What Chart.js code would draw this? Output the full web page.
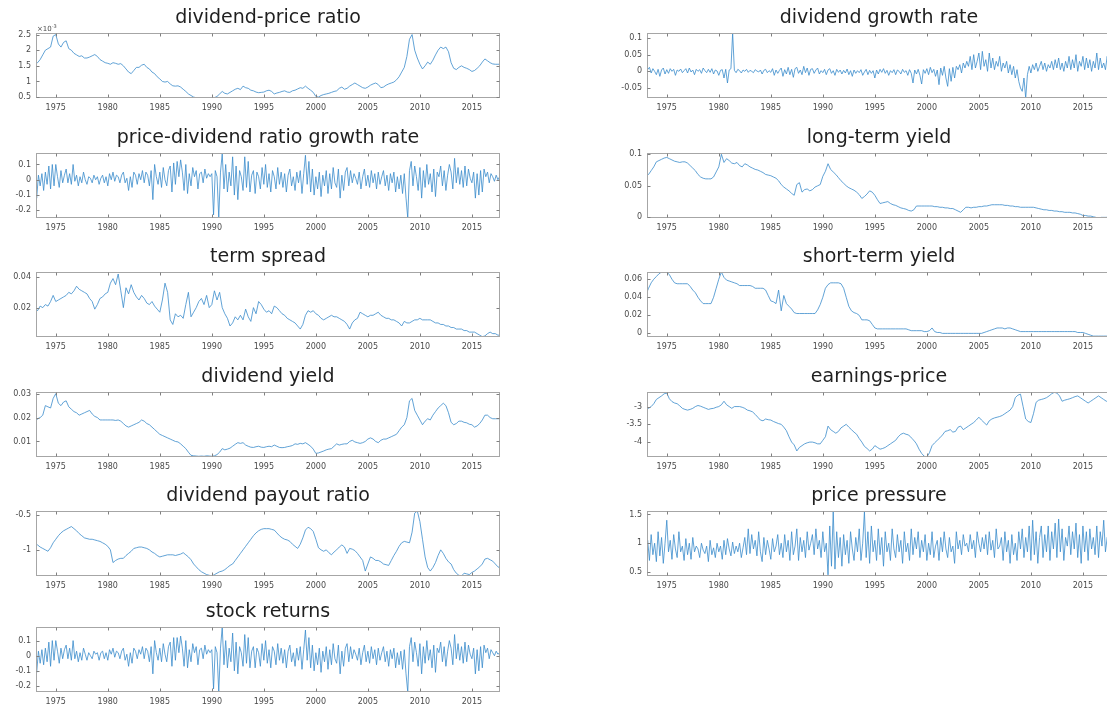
<!DOCTYPE html>
<html>
<head>
<meta charset="utf-8">
<script src="https://cdn.jsdelivr.net/npm/chart.js@4.4.1/dist/chart.umd.min.js"></script>
<style>
html, body { margin: 0; padding: 0; background: #fff; width: 1107px; height: 707px; overflow: hidden; }
.panel { position: absolute; }
</style>
</head>
<body>
<script>
// time axis
const yearTicks = [1975, 1980, 1985, 1990, 1995, 2000, 2005, 2010, 2015];
const xMin = 1973.1, xMax = 2017.7;
const dataStart = 1973;
const quarterStep = 0.25;   // 4 values per year
const bimonthStep = 1 / 6;  // 6 values per year

// dividend-price ratio, shown in units of 1e-3
const dividendPriceRatio = [
  1.55, 1.60, 1.70, 1.85,
  2.00, 2.05, 2.10, 2.45,
  2.50, 2.20, 2.10, 2.25,
  2.30, 2.05, 2.00, 1.90,
  1.85, 1.80, 1.82, 1.75,
  1.75, 1.78, 1.82, 1.86,
  1.80, 1.70, 1.65, 1.60,
  1.58, 1.55, 1.60, 1.58,
  1.55, 1.57, 1.50, 1.40,
  1.30, 1.25, 1.35, 1.45,
  1.45, 1.52, 1.55, 1.45,
  1.40, 1.30, 1.25, 1.15,
  1.08, 1.00, 0.98, 1.00,
  0.92, 0.86, 0.85, 0.86,
  0.82, 0.75, 0.68, 0.60,
  0.55, 0.50, 0.48, 0.47,
  0.47, 0.48, 0.47, 0.48,
  0.47, 0.48, 0.52, 0.60,
  0.68, 0.62, 0.60, 0.65,
  0.70, 0.75, 0.78, 0.74,
  0.85, 0.80, 0.78, 0.72,
  0.70, 0.66, 0.64, 0.65,
  0.66, 0.70, 0.72, 0.68,
  0.60, 0.63, 0.65, 0.68,
  0.70, 0.66, 0.65, 0.70,
  0.72, 0.76, 0.80, 0.78,
  0.85, 0.78, 0.72, 0.65,
  0.52, 0.50, 0.55, 0.58,
  0.60, 0.62, 0.65, 0.68,
  0.70, 0.78, 0.82, 0.75,
  0.78, 0.85, 0.90, 0.95,
  0.90, 0.85, 0.80, 0.78,
  0.82, 0.88, 0.92, 0.95,
  0.90, 0.80, 0.82, 0.88,
  0.92, 0.95, 0.98, 1.05,
  1.15, 1.30, 1.45, 1.80,
  2.35, 2.50, 2.00, 1.75,
  1.55, 1.40, 1.50, 1.62,
  1.55, 1.68, 1.85, 2.00,
  2.10, 2.05, 2.10, 1.95,
  1.60, 1.42, 1.38, 1.45,
  1.50, 1.45, 1.42, 1.38,
  1.32, 1.35, 1.42, 1.50,
  1.62, 1.72, 1.66, 1.60,
  1.56, 1.55, 1.55, 1.55
];

const priceDividendGrowth = [
  -0.06, -0.12, 0.03, -0.04, 0.04, -0.07,
  0.05, -0.03, 0.09, -0.06, 0.10, -0.04,
  0.10, 0.02, -0.05, 0.06, -0.02, 0.03,
  0.07, -0.02, 0.04, -0.03, 0.10, -0.01,
  0.03, -0.04, 0.02, -0.02, 0.05, 0.00,
  -0.03, 0.02, 0.01, -0.02, 0.03, 0.00,
  0.02, -0.03, 0.01, 0.03, -0.02, 0.02,
  -0.04, 0.04, 0.00, 0.05, -0.01, 0.03,
  0.02, -0.02, 0.03, 0.05, -0.02, 0.01,
  -0.07, 0.02, -0.05, 0.05, 0.03, -0.03,
  0.04, 0.00, 0.06, -0.02, 0.05, 0.03,
  -0.04, 0.06, -0.13, 0.10, 0.02, -0.03,
  0.05, -0.05, 0.08, 0.00, -0.04, 0.06,
  0.09, -0.08, 0.11, -0.03, 0.12, 0.02,
  0.13, 0.05, -0.07, 0.10, -0.09, 0.04,
  -0.04, 0.08, 0.02, 0.06, -0.06, 0.04,
  0.05, -0.02, 0.07, 0.01, 0.04, 0.02,
  0.04, -0.23, 0.06, 0.02, -0.25, 0.05,
  0.17, -0.06, 0.10, -0.08, 0.05, -0.04,
  0.15, -0.10, 0.09, -0.13, 0.06, 0.02,
  -0.07, 0.15, -0.05, 0.12, -0.08, 0.03,
  0.06, -0.09, 0.05, 0.02, -0.06, 0.08,
  -0.03, 0.10, -0.05, 0.04, -0.08, 0.06,
  0.02, -0.06, 0.08, -0.03, 0.05, -0.05,
  0.04, -0.08, 0.03, 0.07, -0.04, 0.02,
  -0.07, 0.05, -0.02, 0.06, -0.09, 0.04,
  0.16, -0.03, 0.12, -0.08, 0.07, -0.10,
  0.02, -0.06, 0.05, -0.11, 0.03, -0.04,
  0.06, -0.09, 0.04, -0.06, 0.08, -0.02,
  -0.05, 0.07, -0.12, 0.03, -0.07, 0.05,
  0.08, -0.04, 0.06, -0.02, 0.04, 0.01,
  -0.03, 0.05, -0.06, 0.02, 0.07, -0.04,
  0.03, -0.05, 0.06, -0.02, 0.04, -0.06,
  0.05, -0.03, 0.02, 0.06, -0.04, 0.03,
  -0.07, 0.04, -0.02, 0.05, -0.08, 0.02,
  -0.06, 0.03, -0.09, 0.04, -0.12, -0.25,
  0.06, 0.12, -0.04, 0.09, 0.02, -0.07,
  0.08, -0.12, 0.06, -0.05, 0.10, -0.03,
  0.04, -0.08, 0.07, -0.11, 0.05, 0.02,
  0.09, -0.04, 0.06, -0.07, 0.03, 0.10,
  0.05, -0.06, 0.14, -0.02, 0.08, -0.03,
  0.06, -0.05, 0.09, -0.04, 0.07, 0.01,
  -0.02, 0.05, -0.12, 0.04, -0.10, 0.06,
  -0.08, 0.07, 0.02, 0.05, -0.02, 0.04,
  0.02, -0.01, 0.03, 0.00, 0.02, 0.01
];

const termSpread = [
  0.020, 0.018, 0.021, 0.020,
  0.022, 0.021, 0.024, 0.028,
  0.024, 0.025, 0.026, 0.027,
  0.028, 0.030, 0.029, 0.031,
  0.034, 0.032, 0.031, 0.030,
  0.029, 0.026, 0.024, 0.019,
  0.022, 0.026, 0.027, 0.029,
  0.030, 0.036, 0.039, 0.035,
  0.042, 0.031, 0.020, 0.033,
  0.029, 0.035, 0.030, 0.027,
  0.025, 0.028, 0.026, 0.023,
  0.022, 0.024, 0.021, 0.019,
  0.017, 0.025, 0.036, 0.030,
  0.012, 0.009, 0.016, 0.014,
  0.015, 0.013, 0.022, 0.030,
  0.014, 0.017, 0.020, 0.024,
  0.026, 0.022, 0.028, 0.020,
  0.022, 0.031, 0.025, 0.030,
  0.020, 0.016, 0.013, 0.008,
  0.010, 0.014, 0.012, 0.015,
  0.012, 0.019, 0.014, 0.011,
  0.020, 0.016, 0.024, 0.022,
  0.019, 0.017, 0.018, 0.016,
  0.021, 0.020, 0.018, 0.016,
  0.015, 0.013, 0.012, 0.011,
  0.010, 0.008, 0.006, 0.009,
  0.015, 0.018, 0.017, 0.018,
  0.016, 0.015, 0.013, 0.012,
  0.013, 0.014, 0.015, 0.014,
  0.014, 0.013, 0.012, 0.011,
  0.009, 0.006, 0.010, 0.012,
  0.013, 0.017, 0.016, 0.015,
  0.014, 0.015, 0.015, 0.016,
  0.017, 0.015, 0.014, 0.013,
  0.013, 0.012, 0.012, 0.011,
  0.010, 0.008, 0.011, 0.010,
  0.010, 0.011, 0.012, 0.012,
  0.013, 0.012, 0.012, 0.012,
  0.012, 0.011, 0.010, 0.010,
  0.009, 0.009, 0.008, 0.008,
  0.007, 0.007, 0.006, 0.006,
  0.006, 0.005, 0.005, 0.004,
  0.004, 0.004, 0.003, 0.002,
  0.001, 0.0015, 0.003, 0.004,
  0.003, 0.003, 0.002, 0.002
];

const dividendYield = [
  0.0180, 0.0195, 0.0200, 0.0210,
  0.0250, 0.0245, 0.0240, 0.0280,
  0.0300, 0.0260, 0.0250, 0.0265,
  0.0270, 0.0245, 0.0235, 0.0225,
  0.0220, 0.0210, 0.0215, 0.0220,
  0.0225, 0.0230, 0.0215, 0.0205,
  0.0200, 0.0190, 0.0190, 0.0190,
  0.0190, 0.0190, 0.0190, 0.0188,
  0.0190, 0.0185, 0.0175, 0.0165,
  0.0160, 0.0165, 0.0170, 0.0175,
  0.0180, 0.0190, 0.0185, 0.0175,
  0.0170, 0.0160, 0.0150, 0.0140,
  0.0130, 0.0125, 0.0120, 0.0115,
  0.0110, 0.0105, 0.0100, 0.0098,
  0.0090, 0.0080, 0.0070, 0.0055,
  0.0042, 0.0040, 0.0039, 0.0038,
  0.0039, 0.0038, 0.0040, 0.0039,
  0.0038, 0.0040, 0.0045, 0.0055,
  0.0070, 0.0065, 0.0068, 0.0072,
  0.0080, 0.0088, 0.0095, 0.0092,
  0.0095, 0.0085, 0.0080, 0.0076,
  0.0075, 0.0078, 0.0080, 0.0076,
  0.0075, 0.0078, 0.0080, 0.0078,
  0.0085, 0.0080, 0.0075, 0.0074,
  0.0075, 0.0078, 0.0080, 0.0083,
  0.0090, 0.0088, 0.0092, 0.0090,
  0.0095, 0.0088, 0.0080, 0.0068,
  0.0050, 0.0052, 0.0056, 0.0060,
  0.0065, 0.0068, 0.0070, 0.0080,
  0.0090, 0.0085, 0.0088, 0.0090,
  0.0090, 0.0100, 0.0105, 0.0098,
  0.0095, 0.0092, 0.0095, 0.0100,
  0.0110, 0.0115, 0.0110, 0.0100,
  0.0095, 0.0105, 0.0110, 0.0110,
  0.0115, 0.0120, 0.0125, 0.0130,
  0.0145, 0.0160, 0.0170, 0.0200,
  0.0270, 0.0280, 0.0230, 0.0210,
  0.0190, 0.0170, 0.0185, 0.0195,
  0.0190, 0.0210, 0.0225, 0.0240,
  0.0250, 0.0260, 0.0250, 0.0220,
  0.0180, 0.0170, 0.0175, 0.0185,
  0.0185, 0.0180, 0.0178, 0.0172,
  0.0170, 0.0160, 0.0165, 0.0175,
  0.0190, 0.0210, 0.0210, 0.0200,
  0.0195, 0.0195, 0.0195, 0.0195
];

const dividendPayout = [
  -0.92, -0.93, -0.96, -0.98,
  -1.00, -1.02, -0.97, -0.90,
  -0.85, -0.80, -0.76, -0.73,
  -0.71, -0.69, -0.67, -0.70,
  -0.73, -0.77, -0.80, -0.83,
  -0.84, -0.85, -0.85, -0.86,
  -0.87, -0.88, -0.90, -0.92,
  -0.95, -1.00, -1.18, -1.15,
  -1.13, -1.12, -1.12, -1.08,
  -1.05, -1.02, -0.98, -0.97,
  -0.96, -0.96, -0.97, -0.98,
  -1.00, -1.03, -1.05, -1.08,
  -1.10, -1.09, -1.08, -1.07,
  -1.07, -1.07, -1.08, -1.07,
  -1.06, -1.04, -1.07, -1.10,
  -1.14, -1.20, -1.24, -1.28,
  -1.31, -1.33, -1.35, -1.36,
  -1.37, -1.35, -1.33, -1.31,
  -1.30, -1.28, -1.25, -1.22,
  -1.20, -1.15, -1.10, -1.05,
  -1.00, -0.95, -0.90, -0.85,
  -0.80, -0.76, -0.73, -0.71,
  -0.70, -0.70, -0.70, -0.71,
  -0.72, -0.76, -0.80, -0.83,
  -0.85, -0.86, -0.88, -0.92,
  -0.95, -0.98, -0.92, -0.83,
  -0.72, -0.68, -0.70, -0.74,
  -0.85, -0.97, -1.00, -1.02,
  -1.00, -1.04, -1.07, -1.03,
  -1.00, -0.96, -0.93, -0.96,
  -1.05, -0.98, -0.99, -1.01,
  -1.05, -1.10, -1.15, -1.30,
  -1.20, -1.10, -1.12, -1.15,
  -1.15, -1.17, -1.20, -1.21,
  -1.22, -1.15, -1.08, -1.02,
  -0.95, -0.90, -0.88, -0.89,
  -0.90, -0.75, -0.48, -0.45,
  -0.60, -0.85, -1.10, -1.25,
  -1.30, -1.25, -1.18, -1.08,
  -1.00, -1.05, -1.12, -1.17,
  -1.20, -1.28, -1.33, -1.36,
  -1.37, -1.33, -1.34, -1.35,
  -1.32, -1.30, -1.27, -1.24,
  -1.20, -1.13, -1.12, -1.14,
  -1.16, -1.20, -1.24, -1.26
];

const stockReturns = [
  -0.05, -0.11, 0.03, -0.05, 0.04, -0.06,
  0.05, -0.04, 0.09, -0.07, 0.10, -0.03,
  0.10, 0.03, -0.05, 0.05, -0.02, 0.04,
  0.07, -0.02, 0.05, -0.03, 0.10, -0.02,
  0.03, -0.04, 0.02, -0.03, 0.05, 0.01,
  -0.03, 0.02, 0.00, -0.02, 0.03, 0.01,
  0.02, -0.03, 0.02, 0.03, -0.02, 0.02,
  -0.03, 0.04, 0.01, 0.05, -0.01, 0.03,
  0.02, -0.02, 0.03, 0.05, -0.03, 0.01,
  -0.07, 0.02, -0.05, 0.05, 0.03, -0.02,
  0.04, 0.01, 0.06, -0.02, 0.05, 0.03,
  -0.04, 0.06, -0.12, 0.10, 0.02, -0.03,
  0.05, -0.04, 0.08, 0.01, -0.04, 0.06,
  0.09, -0.07, 0.12, -0.03, 0.12, 0.02,
  0.13, 0.05, -0.07, 0.10, -0.08, 0.04,
  -0.04, 0.08, 0.02, 0.06, -0.06, 0.04,
  0.05, -0.02, 0.07, 0.01, 0.04, 0.02,
  0.04, -0.22, 0.06, 0.02, -0.24, 0.05,
  0.19, -0.06, 0.10, -0.08, 0.05, -0.04,
  0.15, -0.10, 0.09, -0.12, 0.06, 0.02,
  -0.07, 0.14, -0.05, 0.12, -0.08, 0.03,
  0.06, -0.08, 0.05, 0.02, -0.07, 0.08,
  -0.03, 0.10, -0.05, 0.04, -0.08, 0.06,
  0.03, -0.06, 0.08, -0.03, 0.05, -0.05,
  0.04, -0.08, 0.03, 0.07, -0.04, 0.02,
  -0.07, 0.05, -0.03, 0.06, -0.09, 0.04,
  0.17, -0.03, 0.12, -0.08, 0.07, -0.10,
  0.02, -0.06, 0.05, -0.11, 0.03, -0.04,
  0.06, -0.09, 0.04, -0.06, 0.08, -0.02,
  -0.05, 0.07, -0.12, 0.03, -0.07, 0.05,
  0.08, -0.04, 0.06, -0.02, 0.04, 0.01,
  -0.03, 0.05, -0.06, 0.02, 0.07, -0.04,
  0.03, -0.05, 0.06, -0.02, 0.04, -0.06,
  0.05, -0.03, 0.02, 0.06, -0.04, 0.03,
  -0.07, 0.04, -0.02, 0.05, -0.08, 0.02,
  -0.06, 0.03, -0.09, 0.04, -0.12, -0.24,
  0.06, 0.12, -0.04, 0.09, 0.02, -0.07,
  0.08, -0.12, 0.06, -0.05, 0.10, -0.03,
  0.04, -0.08, 0.07, -0.11, 0.05, 0.02,
  0.09, -0.04, 0.06, -0.07, 0.03, 0.10,
  0.05, -0.06, 0.14, -0.02, 0.08, -0.03,
  0.06, -0.05, 0.09, -0.04, 0.07, 0.01,
  -0.02, 0.05, -0.12, 0.04, -0.10, 0.06,
  -0.08, 0.07, 0.02, 0.05, -0.02, 0.04,
  0.02, 0.00, 0.03, 0.01, 0.02, 0.01
];

const dividendGrowth = [
  0.010, 0.005, 0.012, -0.005, 0.008, 0.000,
  -0.010, 0.006, -0.015, 0.004, 0.010, -0.008,
  0.005, -0.006, 0.008, 0.000, 0.006, -0.012,
  0.004, 0.000, 0.007, -0.004, 0.002, 0.008,
  -0.005, 0.010, -0.002, 0.004, -0.010, 0.006,
  0.000, 0.005, -0.006, 0.010, 0.002, -0.004,
  0.006, -0.003, 0.008, -0.008, 0.004, 0.001,
  -0.012, 0.003, 0.005, -0.020, 0.006, -0.035,
  0.004, 0.008, 0.115, 0.003, -0.004, 0.006,
  0.002, -0.005, 0.004, 0.000, 0.006, -0.003,
  0.003, 0.000, -0.004, 0.005, 0.001, -0.002,
  0.004, -0.008, 0.003, 0.006, -0.004, 0.002,
  -0.003, 0.008, -0.012, 0.004, -0.006, 0.003,
  0.010, -0.015, 0.005, -0.008, 0.012, -0.010,
  0.006, -0.018, 0.008, 0.012, -0.006, 0.004,
  -0.010, 0.015, -0.004, 0.010, -0.012, 0.006,
  0.008, -0.006, 0.004, 0.010, -0.008, 0.002,
  -0.004, 0.006, -0.010, 0.004, 0.008, -0.006,
  0.002, -0.012, 0.006, -0.003, 0.004, -0.008,
  0.003, -0.005, 0.007, -0.010, 0.002, -0.015,
  0.004, -0.006, 0.002, -0.004, 0.005, -0.012,
  -0.002, 0.006, -0.010, 0.003, -0.006, 0.002,
  -0.020, 0.004, -0.008, 0.006, -0.003, 0.008,
  -0.006, 0.003, -0.012, 0.002, -0.004, 0.005,
  -0.010, 0.004, 0.000, -0.008, 0.006, -0.003,
  0.002, -0.012, 0.005, -0.006, -0.035, 0.004,
  -0.008, 0.006, -0.012, -0.038, 0.005, -0.006,
  0.008, -0.010, 0.012, -0.004, 0.006, -0.015,
  0.004, -0.040, 0.010, -0.012, 0.015, -0.020,
  -0.045, 0.008, -0.030, 0.012, -0.020, 0.015,
  0.005, 0.020, -0.005, 0.025, 0.010, 0.030,
  0.015, 0.045, 0.005, 0.050, 0.010, 0.030,
  0.055, 0.005, 0.060, 0.015, 0.035, 0.000,
  0.055, 0.010, 0.040, 0.005, 0.030, 0.015,
  0.045, 0.000, 0.025, 0.010, 0.030, -0.005,
  0.020, -0.010, 0.015, -0.020, 0.005, -0.030,
  -0.050, -0.060, -0.020, -0.080, -0.010, 0.015,
  -0.005, 0.020, 0.005, 0.025, 0.000, 0.015,
  0.030, 0.005, 0.025, 0.000, 0.020, 0.010,
  0.030, 0.005, 0.035, 0.010, 0.040, 0.005,
  0.025, 0.000, 0.030, 0.010, 0.045, 0.005,
  0.035, 0.010, 0.050, 0.000, 0.030, 0.015,
  0.045, 0.005, 0.040, 0.010, 0.035, 0.000,
  0.030, 0.010, 0.055, 0.005, 0.040, 0.010,
  0.025, 0.005, 0.045, 0.010, 0.030, 0.020
];

const longTermYield = [
  0.064, 0.068, 0.074, 0.080,
  0.088, 0.090, 0.092, 0.094,
  0.095, 0.093, 0.091, 0.089,
  0.088, 0.087, 0.088, 0.088,
  0.086, 0.082, 0.078, 0.074,
  0.068, 0.064, 0.062, 0.061,
  0.061, 0.061, 0.064, 0.072,
  0.080, 0.100, 0.087, 0.093,
  0.090, 0.086, 0.085, 0.087,
  0.082, 0.080, 0.085, 0.083,
  0.080, 0.078, 0.076, 0.075,
  0.073, 0.071, 0.068, 0.067,
  0.066, 0.064, 0.062, 0.058,
  0.052, 0.048, 0.045, 0.042,
  0.038, 0.035, 0.052, 0.055,
  0.040, 0.044, 0.045, 0.042,
  0.044, 0.048, 0.050, 0.052,
  0.065, 0.073, 0.085, 0.076,
  0.072, 0.068, 0.063, 0.058,
  0.054, 0.050, 0.047, 0.045,
  0.043, 0.040, 0.036, 0.030,
  0.033, 0.037, 0.042, 0.040,
  0.035, 0.028, 0.022, 0.023,
  0.024, 0.025, 0.022, 0.020,
  0.019, 0.017, 0.015, 0.014,
  0.013, 0.011, 0.010, 0.012,
  0.018, 0.018, 0.018, 0.018,
  0.018, 0.018, 0.018, 0.017,
  0.017, 0.016, 0.016, 0.015,
  0.015, 0.014, 0.014, 0.012,
  0.010, 0.008, 0.012, 0.016,
  0.016, 0.015, 0.016, 0.016,
  0.017, 0.017, 0.018, 0.018,
  0.019, 0.020, 0.020, 0.020,
  0.020, 0.020, 0.019, 0.019,
  0.018, 0.018, 0.017, 0.017,
  0.016, 0.016, 0.016, 0.016,
  0.016, 0.016, 0.015, 0.014,
  0.013, 0.012, 0.012, 0.011,
  0.011, 0.010, 0.010, 0.009,
  0.009, 0.008, 0.008, 0.008,
  0.007, 0.007, 0.006, 0.005,
  0.003, 0.003, 0.002, 0.002,
  0.001, 0.000, -0.001, 0.000,
  0.000, 0.000, 0.001, 0.001
];

const shortTermYield = [
  0.043, 0.050, 0.056, 0.060,
  0.063, 0.066, 0.068, 0.068,
  0.068, 0.065, 0.060, 0.056,
  0.055, 0.055, 0.055, 0.055,
  0.055, 0.052, 0.048, 0.045,
  0.040, 0.036, 0.033, 0.033,
  0.033, 0.033, 0.040, 0.050,
  0.060, 0.068, 0.062, 0.059,
  0.058, 0.057, 0.056, 0.055,
  0.053, 0.053, 0.053, 0.053,
  0.053, 0.052, 0.050, 0.050,
  0.050, 0.050, 0.048, 0.042,
  0.036, 0.035, 0.033, 0.048,
  0.025, 0.042, 0.033, 0.030,
  0.027, 0.023, 0.022, 0.022,
  0.022, 0.022, 0.022, 0.022,
  0.022, 0.022, 0.026, 0.032,
  0.040, 0.050, 0.054, 0.056,
  0.056, 0.056, 0.056, 0.055,
  0.050, 0.040, 0.030, 0.025,
  0.023, 0.022, 0.020, 0.015,
  0.015, 0.015, 0.014, 0.010,
  0.006, 0.005, 0.005, 0.005,
  0.005, 0.005, 0.005, 0.005,
  0.005, 0.005, 0.005, 0.005,
  0.005, 0.004, 0.003, 0.003,
  0.003, 0.003, 0.003, 0.002,
  0.002, 0.003, 0.006, 0.002,
  0.001, 0.001, 0.000, 0.000,
  0.000, 0.000, 0.000, 0.000,
  0.000, 0.000, 0.000, 0.000,
  0.000, 0.000, 0.000, 0.000,
  0.000, 0.000, 0.001, 0.002,
  0.003, 0.004, 0.005, 0.006,
  0.006, 0.006, 0.005, 0.006,
  0.006, 0.005, 0.004, 0.003,
  0.002, 0.002, 0.002, 0.002,
  0.002, 0.002, 0.002, 0.002,
  0.002, 0.002, 0.002, 0.002,
  0.002, 0.002, 0.002, 0.002,
  0.002, 0.002, 0.002, 0.002,
  0.002, 0.002, 0.001, 0.001,
  0.001, 0.000, -0.001, -0.002,
  -0.003, -0.003, -0.003, -0.003,
  -0.003, -0.003, -0.003, -0.003
];

const earningsPrice = [
  -3.12, -3.05, -3.00, -2.92,
  -2.80, -2.75, -2.70, -2.64,
  -2.62, -2.78, -2.86, -2.90,
  -2.92, -2.98, -3.05, -3.08,
  -3.10, -3.08, -3.05, -3.00,
  -2.97, -2.99, -3.02, -3.05,
  -3.08, -3.06, -3.05, -3.02,
  -3.00, -2.95, -2.85, -2.95,
  -3.00, -3.05, -3.00, -3.00,
  -3.00, -3.02, -3.05, -3.10,
  -3.12, -3.15, -3.22, -3.30,
  -3.38, -3.40, -3.35, -3.37,
  -3.38, -3.42, -3.45, -3.48,
  -3.50, -3.58, -3.68, -3.85,
  -4.00, -4.08, -4.25, -4.15,
  -4.10, -4.05, -4.02, -4.00,
  -4.00, -4.02, -4.05, -4.05,
  -3.95, -3.85, -3.55, -3.65,
  -3.70, -3.75, -3.70, -3.60,
  -3.55, -3.50, -3.58, -3.65,
  -3.72, -3.78, -3.90, -4.00,
  -4.12, -4.18, -4.25, -4.20,
  -4.10, -4.15, -4.20, -4.18,
  -4.15, -4.10, -4.05, -4.00,
  -3.95, -3.85, -3.78, -3.75,
  -3.78, -3.80, -3.88, -3.95,
  -4.05, -4.20, -4.32, -4.40,
  -4.42, -4.30, -4.10, -4.02,
  -3.95, -3.88, -3.80, -3.70,
  -3.68, -3.65, -3.72, -3.70,
  -3.58, -3.55, -3.65, -3.60,
  -3.55, -3.50, -3.45, -3.38,
  -3.30, -3.38, -3.45, -3.52,
  -3.40, -3.35, -3.32, -3.30,
  -3.28, -3.25, -3.20, -3.15,
  -3.10, -3.00, -2.75, -2.68,
  -2.65, -3.00, -3.35, -3.42,
  -3.45, -3.20, -2.88, -2.82,
  -2.80, -2.78, -2.75, -2.70,
  -2.64, -2.60, -2.62, -2.70,
  -2.85, -2.82, -2.80, -2.78,
  -2.75, -2.72, -2.70, -2.75,
  -2.80, -2.85, -2.90, -2.85,
  -2.80, -2.75, -2.70, -2.75,
  -2.80, -2.85, -2.85, -2.85
];

const pricePressure = [
  0.75, 1.05, 0.70, 1.15, 0.80, 1.00,
  0.68, 1.20, 0.78, 1.10, 0.65, 1.00,
  1.40, 0.85, 1.05, 0.72, 1.15, 0.90,
  0.75, 1.20, 0.85, 0.95, 0.70, 1.08,
  0.80, 1.00, 0.72, 1.10, 0.85, 0.95,
  0.90, 0.75, 1.00, 0.88, 0.82, 0.95,
  0.68, 1.05, 0.80, 0.92, 0.75, 1.00,
  0.85, 0.95, 0.72, 1.05, 0.80, 1.08,
  0.90, 0.78, 1.02, 0.82, 0.95, 0.85,
  1.00, 0.75, 0.92, 1.10, 0.80, 1.25,
  0.82, 1.15, 0.90, 1.05, 0.78, 1.20,
  0.85, 0.68, 1.10, 0.80, 1.05, 0.90,
  0.72, 1.08, 0.85, 0.95, 1.15, 0.80,
  1.00, 0.75, 1.15, 0.85, 1.05, 0.70,
  1.20, 0.80, 0.95, 1.25, 0.70, 1.10,
  0.85, 1.05, 0.75, 1.20, 0.88, 1.00,
  1.15, 0.80, 1.25, 0.90, 1.05, 0.75,
  1.20, 0.85, 1.00, 0.45, 1.30, 0.60,
  1.56, 0.55, 1.20, 0.75, 1.10, 0.60,
  1.15, 0.80, 1.05, 0.65, 1.20, 0.90,
  0.70, 1.10, 0.85, 1.25, 0.70, 1.00,
  1.55, 0.75, 1.20, 0.65, 1.30, 0.85,
  1.05, 0.70, 1.25, 0.80, 1.10, 0.60,
  1.20, 0.85, 1.00, 0.70, 1.25, 0.90,
  0.75, 1.15, 0.85, 1.05, 0.65, 1.20,
  0.85, 1.00, 0.70, 1.25, 0.80, 1.10,
  0.90, 1.20, 0.75, 1.05, 0.85, 1.15,
  0.70, 1.00, 0.80, 1.20, 0.75, 0.95,
  1.05, 0.70, 1.10, 0.85, 1.20, 0.90,
  0.75, 1.10, 0.85, 0.95, 0.65, 1.20,
  0.90, 1.05, 0.80, 1.15, 0.95, 1.00,
  0.85, 1.15, 0.90, 1.05, 0.75, 1.20,
  1.00, 0.85, 1.10, 0.90, 1.15, 0.80,
  1.20, 0.88, 1.05, 0.75, 1.25, 0.90,
  0.95, 1.10, 0.70, 1.20, 0.85, 1.05,
  0.65, 1.15, 0.80, 1.00, 0.70, 1.20,
  0.90, 1.25, 0.75, 1.10, 0.85, 1.30,
  0.70, 1.40, 0.80, 1.20, 0.65, 1.10,
  1.30, 0.75, 1.15, 0.85, 1.30, 0.70,
  1.20, 0.90, 1.35, 0.75, 1.42, 0.85,
  1.25, 0.70, 1.10, 0.95, 1.30, 0.80,
  1.20, 0.90, 1.35, 0.75, 1.15, 0.65,
  1.30, 0.85, 1.20, 0.70, 1.25, 0.90,
  1.10, 0.80, 1.30, 0.75, 1.20, 0.95,
  1.40, 0.85, 1.10, 1.00, 1.15, 0.95
];

// y tick values per panel
const dpTicks = [0.5, 1, 1.5, 2, 2.5];
const returnTicks = [-0.2, -0.1, 0, 0.1];
const spreadTicks = [0.02, 0.04];
const yieldTicks = [0.01, 0.02, 0.03];
const payoutTicks = [-1, -0.5];
const growthTicks = [-0.05, 0, 0.05, 0.1];
const longTicks = [0, 0.05, 0.1];
const shortTicks = [0, 0.02, 0.04, 0.06];
const epTicks = [-4, -3.5, -3];
const pressureTicks = [0.5, 1, 1.5];

const panels = [
  { col: 0, row: 0, title: 'dividend-price ratio', values: dividendPriceRatio, step: quarterStep, yMin: 0.47, yMax: 2.55, ticks: dpTicks, exponent: '-3' },
  { col: 0, row: 1, title: 'price-dividend ratio growth rate', values: priceDividendGrowth, step: bimonthStep, yMin: -0.25, yMax: 0.175, ticks: returnTicks },
  { col: 0, row: 2, title: 'term spread', values: termSpread, step: quarterStep, yMin: 0.0008, yMax: 0.0433, ticks: spreadTicks },
  { col: 0, row: 3, title: 'dividend yield', values: dividendYield, step: quarterStep, yMin: 0.0035, yMax: 0.0307, ticks: yieldTicks },
  { col: 0, row: 4, title: 'dividend payout ratio', values: dividendPayout, step: quarterStep, yMin: -1.37, yMax: -0.45, ticks: payoutTicks },
  { col: 0, row: 5, title: 'stock returns', values: stockReturns, step: bimonthStep, yMin: -0.24, yMax: 0.19, ticks: returnTicks },
  { col: 1, row: 0, title: 'dividend growth rate', values: dividendGrowth, step: bimonthStep, yMin: -0.08, yMax: 0.115, ticks: growthTicks },
  { col: 1, row: 1, title: 'long-term yield', values: longTermYield, step: quarterStep, yMin: -0.001, yMax: 0.102, ticks: longTicks },
  { col: 1, row: 2, title: 'short-term yield', values: shortTermYield, step: quarterStep, yMin: -0.004, yMax: 0.068, ticks: shortTicks },
  { col: 1, row: 3, title: 'earnings-price', values: earningsPrice, step: quarterStep, yMin: -4.42, yMax: -2.59, ticks: epTicks },
  { col: 1, row: 4, title: 'price pressure', values: pricePressure, step: bimonthStep, yMin: 0.43, yMax: 1.56, ticks: pressureTicks }
];

// layout of the subplot grid
const colLeft = [0, 611];
const rowTop = [0, 120, 239, 359, 478, 594];
const canvasW = 510, canvasH = 112;

const lineColor = '#3a8ccb';
const tickFont = { family: 'DejaVu Sans', size: 8 };
const tickColor = '#4a4a4a';

// MATLAB-like box with inward tick marks
const axesBox = {
  id: 'axesBox',
  afterDatasetsDraw(chart, args, opts) {
    const { ctx, chartArea: a, scales } = chart;
    const l = Math.round(a.left) + 0.5, r = Math.round(a.right) - 0.5;
    const t = Math.round(a.top) + 0.5, b = Math.round(a.bottom) - 0.5;
    ctx.save();
    ctx.strokeStyle = '#a6a6a6';
    ctx.lineWidth = 1;
    ctx.strokeRect(l, t, r - l, b - t);
    ctx.strokeStyle = '#808080';
    ctx.beginPath();
    scales.x.ticks.forEach(tk => {
      const px = Math.round(scales.x.getPixelForValue(tk.value)) + 0.5;
      ctx.moveTo(px, b); ctx.lineTo(px, b - 3);
      ctx.moveTo(px, t); ctx.lineTo(px, t + 3);
    });
    scales.y.ticks.forEach(tk => {
      const py = Math.round(scales.y.getPixelForValue(tk.value)) + 0.5;
      ctx.moveTo(l, py); ctx.lineTo(l + 3, py);
      ctx.moveTo(r, py); ctx.lineTo(r - 3, py);
    });
    ctx.stroke();
    if (opts.exponent) {
      ctx.fillStyle = tickColor;
      ctx.textBaseline = 'alphabetic';
      ctx.textAlign = 'left';
      ctx.font = '7px "DejaVu Sans"';
      ctx.fillText('\u00d710', a.left + 1, a.top - 2);
      const w = ctx.measureText('\u00d710').width;
      ctx.font = '5px "DejaVu Sans"';
      ctx.fillText(opts.exponent, a.left + 1 + w, a.top - 5);
    }
    ctx.restore();
  }
};

function series(values, step) {
  return values.map((v, i) => ({ x: dataStart + i * step, y: v }));
}

panels.forEach(p => {
  const div = document.createElement('div');
  div.className = 'panel';
  div.style.left = colLeft[p.col] + 'px';
  div.style.top = rowTop[p.row] + 'px';
  const canvas = document.createElement('canvas');
  canvas.width = canvasW;
  canvas.height = canvasH;
  div.appendChild(canvas);
  document.body.appendChild(div);

  new Chart(canvas, {
    type: 'line',
    data: {
      datasets: [{
        data: series(p.values, p.step),
        borderColor: lineColor,
        borderWidth: 0.8,
        pointRadius: 0,
        tension: 0,
        fill: false
      }]
    },
    options: {
      responsive: false,
      animation: false,
      events: [],
      layout: { padding: { left: 0, right: 10, top: 0, bottom: 0 } },
      plugins: {
        legend: { display: false },
        tooltip: { enabled: false },
        title: {
          display: true,
          text: p.title,
          fullSize: false,
          color: '#1f1f1f',
          font: { family: 'DejaVu Sans', size: 19, weight: 'normal', lineHeight: 1.2 },
          padding: { top: 7, bottom: 3.2 }
        },
        axesBox: { exponent: p.exponent }
      },
      scales: {
        x: {
          type: 'linear',
          min: xMin,
          max: xMax,
          afterBuildTicks: s => { s.ticks = yearTicks.map(v => ({ value: v })); },
          afterFit: s => { s.height = 14; },
          grid: { display: false, drawTicks: false },
          border: { display: false },
          ticks: { padding: 5, font: tickFont, color: tickColor, autoSkip: false, maxRotation: 0, callback: v => String(v) }
        },
        y: {
          type: 'linear',
          min: p.yMin,
          max: p.yMax,
          afterBuildTicks: s => { s.ticks = p.ticks.map(v => ({ value: v })); },
          afterFit: s => { s.width = 36; },
          grid: { display: false, drawTicks: false },
          border: { display: false },
          ticks: { padding: 5, font: tickFont, color: tickColor, autoSkip: false, callback: v => String(v) }
        }
      }
    },
    plugins: [axesBox]
  });
});
</script>
</body>
</html>
